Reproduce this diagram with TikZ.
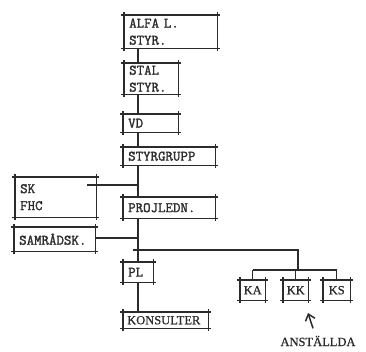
\documentclass[tikz,border=0pt]{standalone}
\usepackage{fontspec}
\setmainfont{Liberation Serif}
\newfontfamily\typefam{Latin Modern Mono}[FakeBold=1.6]
\newfontfamily\printfam{Liberation Serif}[FakeBold=0.8]
\usetikzlibrary{arrows.meta,positioning,calc}
\definecolor{Ink}{HTML}{2B2B2B}
\newcommand{\typew}{\typefam\fontsize{14.5}{17}\selectfont}
\newcommand{\printw}{\printfam\fontsize{12.5}{15}\selectfont}
\tikzset{
  tick/.style={draw=Ink,line width=1.2pt,shorten <=-3pt,shorten >=-3pt},
  orgbox/.style={anchor=north west,inner xsep=5pt,inner ysep=0pt,align=left,text=Ink,font=\typew,
    append after command={
      (\tikzlastnode.north west) edge[tick] (\tikzlastnode.north east)
      (\tikzlastnode.north east) edge[tick] (\tikzlastnode.south east)
      (\tikzlastnode.south east) edge[tick] (\tikzlastnode.south west)
      (\tikzlastnode.south west) edge[tick] (\tikzlastnode.north west)}},
  smallbox/.style={orgbox,inner xsep=3pt,align=center,font=\printw},
  link/.style={draw=Ink,line width=1.2pt}
}
\begin{document}
\begin{tikzpicture}[x=1pt,y=-1pt]
  \useasboundingbox (0,0) rectangle (366,352);
  % main column
  \node[orgbox,text width=83pt,minimum height=33pt] (alfa) at (124,15) {ALFA L.\\STYR.};
  \node[orgbox,text width=44pt,minimum height=31pt] (stal) at (124,63) {STAL\\STYR.};
  \node[orgbox,text width=45pt,minimum height=18pt] (vd) at (123,114) {VD};
  \node[orgbox,text width=82pt,minimum height=18pt] (styr) at (123,147) {STYRGRUPP};
  \node[orgbox,text width=82pt,minimum height=21pt] (projl) at (123,197) {PROJLEDN.};
  \node[orgbox,text width=20pt,minimum height=20pt] (pl) at (123,262) {PL};
  \node[orgbox,inner xsep=4pt,text width=77pt,minimum height=16pt,font=\printw] (kons) at (123,312) {KONSULTER};
  % side boxes
  \node[orgbox,text width=71pt,minimum height=40pt] (skfhc) at (15,177) {SK\\FHC};
  \node[orgbox,text width=71pt,minimum height=24pt] (samrad) at (14,227) {SAMRÅDSK.};
  % staff
  \node[smallbox,text width=19pt,minimum height=20pt] (ka) at (240,280) {KA};
  \node[smallbox,text width=19pt,minimum height=20pt] (kk) at (283,280) {KK};
  \node[smallbox,text width=21pt,minimum height=20pt] (ks) at (323,280) {KS};
  \node[font=\printw,text=Ink] (anst) at (318,341) {ANSTÄLLDA};

  \coordinate (spine) at (138,0);
  \coordinate (jsk) at (138,185);
  \coordinate (jsam) at (138,238);
  \coordinate (busl) at (133,250);
  \coordinate (busr) at (298,250);
  \coordinate (kbus) at (0,270);
  \coordinate (anstpt) at (308,313);

  \draw[link] (alfa.south -| spine) -- (stal.north -| spine);
  \draw[link] (stal.south -| spine) -- (vd.north -| spine);
  \draw[link] (vd.south -| spine) -- (styr.north -| spine);
  \draw[link] (styr.south -| spine) -- (projl.north -| spine);
  \draw[link] (projl.south -| spine) -- (pl.north -| spine);
  \draw[link] (pl.south -| spine) -- (kons.north -| spine);
  \draw[link] ([xshift=-9pt]skfhc.east |- jsk) -- (jsk);
  \draw[link] (samrad.east |- jsam) -- (jsam);
  \draw[link] (busl) -- (busr) -- (busr |- kbus);
  \draw[link] (ka.north |- kbus) -- (ks.north |- kbus);
  \foreach \k in {ka,kk,ks}
    \draw[link] (\k.north |- kbus) -- (\k.north);
  \draw[link,line width=1.5pt,-{Straight Barb[length=6pt,width=10pt]}] ([shift={(-5,-4)}]anst.north) -- (anstpt);
\end{tikzpicture}
\end{document}
